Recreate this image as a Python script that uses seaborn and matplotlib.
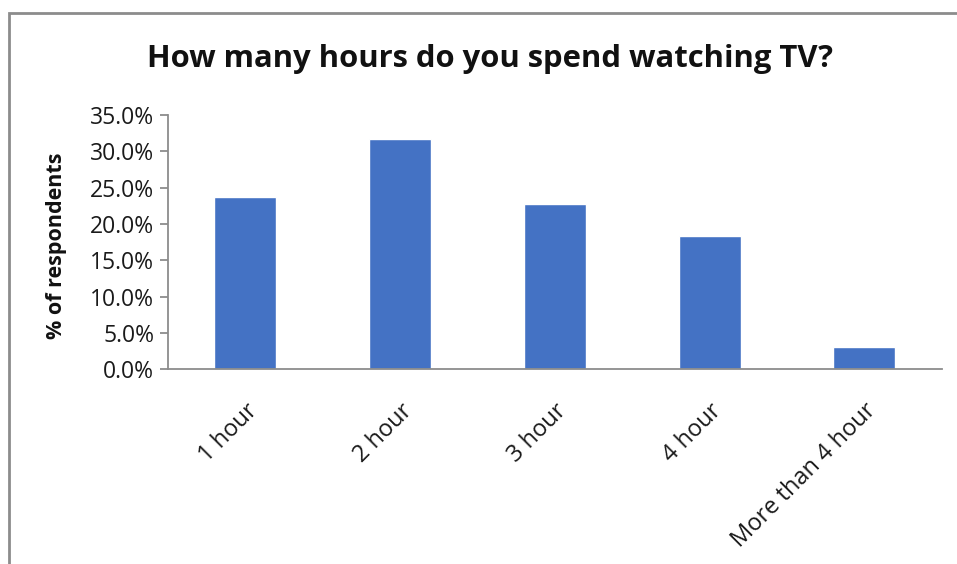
import matplotlib
matplotlib.use("Agg")
import matplotlib.pyplot as plt
import seaborn as sns
import pandas as pd
from matplotlib.ticker import PercentFormatter, MultipleLocator
from matplotlib.patches import Rectangle

categories = ["1 hour", "2 hour", "3 hour", "4 hour", "More than 4 hour"]
shares = [23.7, 31.7, 22.8, 18.4, 3.1]

df = pd.DataFrame({"category": categories, "share": shares})

sns.set_style("white")
plt.rcParams["font.family"] = ["Open Sans", "DejaVu Sans"]

fig = plt.figure(figsize=(9.57, 5.64), dpi=100)
ax = fig.add_axes([0.1755, 0.3449, 0.8085, 0.4511])

sns.barplot(data=df, x="category", y="share", color="#4472C4",
            width=0.4, saturation=1, ax=ax)

ax.set_ylim(0, 35)
ax.yaxis.set_major_locator(MultipleLocator(5))
ax.yaxis.set_major_formatter(PercentFormatter(decimals=1))
ax.set_xlim(-0.5, len(categories) - 0.5)

for side in ["top", "right"]:
    ax.spines[side].set_visible(False)
for side in ["left", "bottom"]:
    ax.spines[side].set_color("#8c8c8c")
    ax.spines[side].set_linewidth(1.3)

ax.tick_params(axis="y", which="major", length=6, width=1.3, color="#8c8c8c",
               labelsize=16.5, labelcolor="#1a1a1a", pad=4, left=True)
ax.tick_params(axis="x", length=0, labelsize=17, labelcolor="#1a1a1a", pad=21)
plt.setp(ax.get_xticklabels(), rotation=45, ha="right", va="top",
         rotation_mode="anchor")

ax.set_xlabel("")
ax.set_ylabel("% of respondents", fontsize=15.5, fontweight="bold",
              color="#111111")
ax.yaxis.set_label_coords(-0.131, 0.485)

fig.text(0.512, 1 - 67 / 564, "How many hours do you spend watching TV?",
         ha="center", va="baseline", fontsize=22.3, fontweight="bold",
         color="#111111")

fig.patches.append(Rectangle((9 / 957, -0.05), 1.2, 1.05 - 13 / 564,
                             transform=fig.transFigure, fill=False,
                             edgecolor="#8c8c8c", linewidth=2))

fig.savefig("out.png", dpi=100)
